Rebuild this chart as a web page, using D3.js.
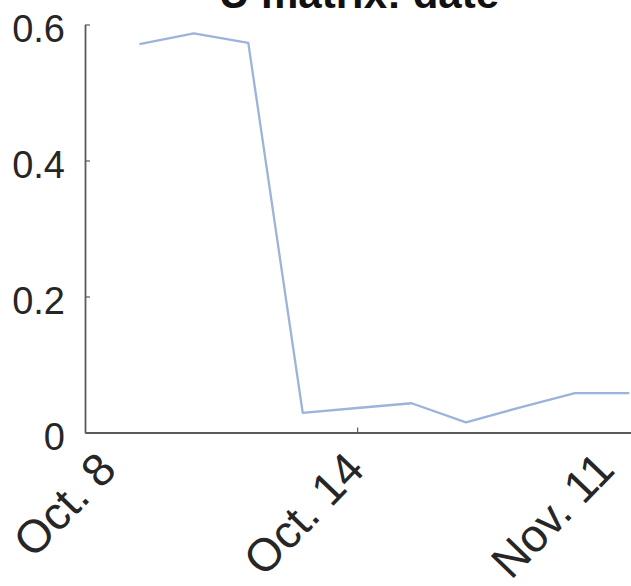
<!DOCTYPE html>
<html>
<head>
<meta charset="utf-8">
<script src="https://cdn.jsdelivr.net/npm/d3@7"></script>
<style>
  html, body { margin: 0; padding: 0; background: #fff; }
  svg { display: block; }
</style>
</head>
<body>
<svg id="chart" width="631" height="586"></svg>
<script>
// ---- data ----
const title = "U matrix: date";
const xIndex = [1, 2, 3, 4, 5, 6, 7, 8, 9, 10];
const uValues = [0.571, 0.587, 0.573, 0.029, 0.036, 0.043, 0.015, 0.037, 0.058, 0.058];
const xTickPos = [0.44, 5, 9.59];
const xTickLabels = ["Oct. 8", "Oct. 14", "Nov. 11"];
const xTickMarks = [5];
const yTicks = [0, 0.2, 0.4, 0.6];
const yTickLabels = ["0", "0.2", "0.4", "0.6"];

// ---- drawing ----
const svg = d3.select("#chart");
const axisColor = "#5a5a5a";
const textColor = "#262626";
const font = "'Liberation Sans', Arial, Helvetica, sans-serif";

const x = d3.scaleLinear().domain([0, 10.05]).range([85, 632]);
const y = d3.scaleLinear().domain([0, 0.6]).range([432.5, 24.5]);

// line
const line = d3.line().x((d, i) => x(xIndex[i])).y(d => y(d));
svg.append("path")
  .datum(uValues)
  .attr("d", line)
  .attr("fill", "none")
  .attr("stroke", "#9db3dc")
  .attr("stroke-width", 2.3)
  .attr("stroke-linejoin", "round");

// y axis
const yAxis = svg.append("g")
  .attr("transform", `translate(${x(0)},0)`)
  .call(d3.axisLeft(y)
    .tickValues(yTicks)
    .tickFormat((d, i) => yTickLabels[i])
    .tickSizeInner(-5)
    .tickSizeOuter(0)
    .tickPadding(20));
yAxis.select(".domain").attr("stroke", axisColor).attr("stroke-width", 1.8);
yAxis.selectAll(".tick line").attr("stroke", axisColor).attr("stroke-width", 1.2);
yAxis.selectAll(".tick text")
  .attr("x", -20)
  .attr("dy", "0.46em")
  .attr("fill", textColor)
  .style("font-family", font)
  .style("font-size", "38px");

// x axis (labels)
const xAxis = svg.append("g")
  .attr("transform", `translate(0,${y(0)})`)
  .call(d3.axisBottom(x)
    .tickValues(xTickPos)
    .tickFormat((d, i) => xTickLabels[i])
    .tickSizeInner(0)
    .tickSizeOuter(0));
xAxis.select(".domain").attr("stroke", axisColor).attr("stroke-width", 1.8);
xAxis.selectAll(".tick line").remove();
xAxis.selectAll(".tick text")
  .attr("x", 0)
  .attr("y", 0)
  .attr("dy", 0)
  .attr("text-anchor", "end")
  .attr("transform", "translate(9,39) rotate(-46)")
  .attr("fill", textColor)
  .style("font-family", font)
  .style("font-size", "46px");

// x axis (inward tick marks)
const xMarks = svg.append("g")
  .attr("transform", `translate(0,${y(0)})`)
  .call(d3.axisBottom(x)
    .tickValues(xTickMarks)
    .tickFormat("")
    .tickSizeInner(-5)
    .tickSizeOuter(0));
xMarks.select(".domain").remove();
xMarks.selectAll(".tick line").attr("stroke", axisColor).attr("stroke-width", 1.2);

// title (clipped at top like the reference)
svg.append("text")
  .attr("x", 359)
  .attr("y", 8)
  .attr("text-anchor", "middle")
  .attr("fill", "#111")
  .style("font-family", font)
  .style("font-weight", "bold")
  .style("font-size", "42px")
  .text(title);
</script>
</body>
</html>
